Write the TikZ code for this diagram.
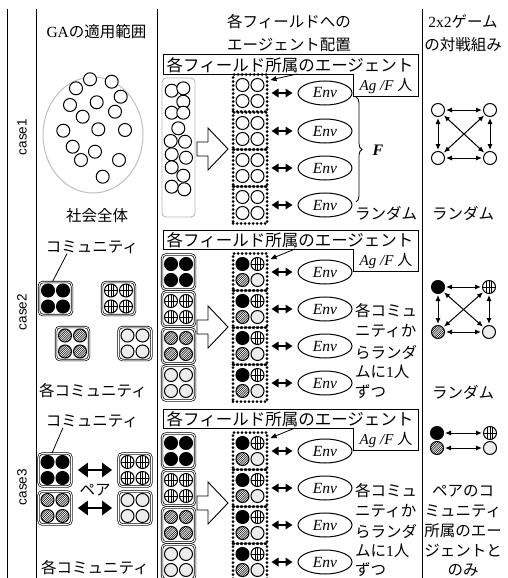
\documentclass[tikz,border=0pt]{standalone}
\usepackage{fontspec}
\setmainfont{Liberation Serif}
\setsansfont{Liberation Sans}
\newfontfamily\jpf{Noto Sans CJK JP}
\usetikzlibrary{arrows.meta,decorations.pathreplacing,calc,shapes.geometric}
\tikzset{
  hatchfill/.style={path picture={\foreach \k in {-18,-15.8,...,18}{\draw[line width=.5pt] ($(path picture bounding box.center)+(\k-10,10)$)--($(path picture bounding box.center)+(\k+10,-10)$);}}},
  gridfill/.style={path picture={\draw[line width=.55pt] ($(path picture bounding box.center)+(-2.6,-8)$)--++(0,16) ($(path picture bounding box.center)+(0,-8)$)--++(0,16) ($(path picture bounding box.center)+(2.6,-8)$)--++(0,16) ($(path picture bounding box.center)+(-8,0)$)--++(16,0);}},
  cW/.style={draw, line width=1pt, fill=white},
  cL/.style={draw, line width=1pt, fill=gray!15},
  cB/.style={draw, line width=1pt, fill=black},
  cG/.style={draw, line width=1pt, fill=white, gridfill},
  cH/.style={draw, line width=1pt, fill=white, hatchfill},
  ag/.pic={\path[#1] (0,0) circle[radius=6.5pt];},
  dotbox/.style={draw, line width=3pt, dash pattern=on 0pt off 4pt, line cap=round, minimum width=34pt, minimum height=37pt, inner sep=0pt},
  combox/.style={draw, double, line width=.7pt, double distance=1pt, rounded corners=4pt, minimum width=33pt, minimum height=35pt, inner sep=0pt},
  envs/.style={draw, ellipse, line width=1pt, minimum width=54pt, minimum height=24pt, inner sep=0pt, font=\itshape\fontsize{15.5}{15.5}\selectfont},
  jt/.style={font=\jpf\fontsize{15.5}{18}\selectfont, inner sep=0pt},
  jl/.style={font=\jpf\fontsize{16.5}{18}\selectfont, inner sep=0pt},
  darr/.style={line width=1.7pt, >={Triangle[length=7pt,width=8.5pt]}, <->, shorten <=3pt, shorten >=5pt},
  bigdarr/.style={line width=2.8pt, >={Triangle[length=10pt,width=14pt]}, <->, shorten <=6pt, shorten >=6pt},
  sarr/.style={line width=1pt, >={Latex[length=6pt,width=5pt]}, <->, shorten <=1pt, shorten >=1pt},
  tagarr/.style={line width=.8pt, -{Triangle[length=6pt,width=5pt]}},
  lbox/.style={line width=1pt},
  barr/.style={line width=.9pt, fill=white},
  smc/.style={circle, minimum size=13pt, inner sep=0pt},
  sep/.style={line width=.5pt, double, double distance=1.2pt},
  vline/.style={line width=.9pt},
  caselab/.style={rotate=90, font=\sffamily\fontsize{13.5}{14}\selectfont, inner sep=0pt},
}
\newcommand\fourag[5]{%
  \pic at ($(#1)+(-7.5,-8)$) {ag=#2};
  \pic at ($(#1)+(7.5,-8)$) {ag=#3};
  \pic at ($(#1)+(-7.5,8)$) {ag=#4};
  \pic at ($(#1)+(7.5,8)$) {ag=#5};}
\newcommand\blkarrow[1]{%
  \draw[barr] (197,#1-7) -- (208,#1-7) -- (208,#1-21) -- (228,#1) -- (208,#1+21) -- (208,#1+7) -- (197,#1+7) -- cycle;}
\begin{document}
\begin{tikzpicture}[x=1pt,y=-1pt]
\useasboundingbox (0,0) rectangle (507,578);
\fill[white] (0,0) rectangle (507,578);

% ---------- table ----------
\draw[sep] (7,9) -- (507,9);
\draw[sep] (7,53) -- (507,53);
\draw[sep] (7,226) -- (507,226);
\draw[sep] (7,404) -- (507,404);
\foreach \xx in {7,36,157,422} \draw[vline] (\xx,9) -- (\xx,578);

% ---------- header ----------
\node[jt] (h1) at (96.5,32) {{\rmfamily GA}の適用範囲};
\node[jt] (h2a) at (289,22) {各フィールドへの};
\node[jt] (h2b) at (289,45) {エージェント配置};
\node[jt] (h3a) at (463,22) {{\rmfamily 2x2}ゲーム};
\node[jt] (h3b) at (463,45) {の対戦組み};

% ================= case 1 =================
\node[caselab] (c1) at (22,137) {case1};
\node[draw=gray!50, line width=1pt, ellipse, minimum width=100pt, minimum height=116pt, inner sep=0pt] (soc) at (93,135) {};
\foreach \p in {(90,79.3),(111.7,81.7),(76,88.3),(120.7,96.7),(96.7,102.3),(70,105),(115,111.7),(82.7,116.7),(63.3,130.7),(98.3,129.3),(125,130),(72.7,146.7),(95,151.7),(81,160),(119,160),(102.7,176.7)}
  \pic at \p {ag=cW};
\node[jt] (s1) at (97,216) {社会全体};

% label box
\draw[lbox] (163,55) -- (418,55) -- (418,96) -- (353,96) -- (353,74) -- (163,74) -- cycle;
\node[jl] (lab1) at (290,65) {各フィールド所属のエージェント};
\node[inner sep=0pt, font=\fontsize{15}{15}\selectfont] (ag1) at (386,86) {\textit{Ag /F} {\jpf 人}};
% pool
\node[draw=gray!55, line width=.9pt, rounded corners=4pt, minimum width=33pt, minimum height=139pt, inner sep=0pt] (pool1) at (178.5,147.5) {};
\foreach \p in {(171.7,90.7),(183.3,88.3),(183.3,101.7),(171.7,112.7),(183.3,112.7),(178.3,128.3),(170.7,141),(185,141.7),(171.7,154.3),(186,157.7),(171.7,167.3),(183.3,175.7),(171.7,186.7),(184.3,189.3)}
  \pic at \p {ag=cW};
\blkarrow{149}
\foreach \yy [count=\i] in {93,131,168,205} {
  \node[dotbox] (g1\i) at (250,\yy) {};
  \fourag{g1\i}{cW}{cW}{cW}{cW}
  \node[envs] (e1\i) at (325,\yy) {Env};
  \draw[darr] (g1\i) -- (e1\i);
}
\coordinate (la1) at (297,74);
\draw[tagarr] (la1) -- ($(g11.north east)+(2,7)$);
\draw[decorate, decoration={brace, amplitude=6pt}, line width=.8pt] (356,97) -- (356,202);
\node[font=\bfseries\itshape\fontsize{16}{16}\selectfont, inner sep=0pt] (F1) at (378,150) {F};
\node[jt] (rnd1) at (386,213) {ランダム};
% col 4
\node[smc, cW] (k11) at (438,110) {};
\node[smc, cW] (k12) at (490,110) {};
\node[smc, cW] (k13) at (438,158) {};
\node[smc, cW] (k14) at (490,158) {};
\draw[sarr] (k11) -- (k12);
\draw[sarr] (k13) -- (k14);
\draw[sarr] (k11) -- (k13);
\draw[sarr] (k12) -- (k14);
\draw[sarr] (k11) -- (k14);
\draw[sarr] (k12) -- (k13);
\node[jt] (rnd1b) at (463,213) {ランダム};

% ================= case 2 =================
\node[caselab] (c2) at (22,312) {case2};
\node[jt] (ct2) at (92,247) {コミュニティ};
\node[combox, minimum height=33pt] (cb2) at (55.5,298.5) {}; \fourag{cb2}{cB}{cB}{cB}{cB}
\node[combox, minimum height=33pt] (cg2) at (118.5,298.5) {}; \fourag{cg2}{cG}{cG}{cG}{cG}
\node[combox, minimum height=33pt] (ch2) at (72.5,343.5) {}; \fourag{ch2}{cH}{cH}{cH}{cH}
\node[combox, minimum height=33pt] (cl2) at (135,343.5) {}; \fourag{cl2}{cL}{cL}{cL}{cL}
\draw[line width=.8pt] ([xshift=-25pt]ct2.south) -- ([xshift=-3pt]cb2.north);
\node[jt] (ea2) at (93,391) {各コミュニティ};

\draw[lbox] (163,230) -- (418,230) -- (418,271) -- (353,271) -- (353,249) -- (163,249) -- cycle;
\node[jl] (lab2) at (290,240) {各フィールド所属のエージェント};
\node[inner sep=0pt, font=\fontsize{15}{15}\selectfont] (ag2) at (386,261) {\textit{Ag /F} {\jpf 人}};
\node[combox] (p21) at (178.5,272) {}; \fourag{p21}{cB}{cB}{cB}{cB}
\node[combox] (p22) at (178.5,309) {}; \fourag{p22}{cG}{cG}{cG}{cG}
\node[combox] (p23) at (178.5,346) {}; \fourag{p23}{cH}{cH}{cH}{cH}
\node[combox] (p24) at (178.5,383) {}; \fourag{p24}{cL}{cL}{cL}{cL}
\blkarrow{327}
\foreach \yy [count=\i] in {272,309,346,383} {
  \node[dotbox] (g2\i) at (250,\yy) {};
  \fourag{g2\i}{cB}{cG}{cH}{cL}
  \node[envs] (e2\i) at (325,\yy) {Env};
  \draw[darr] (g2\i) -- (e2\i);
}
\coordinate (la2) at (295,249);
\draw[tagarr] (la2) -- ($(g21.north east)+(2,7)$);
\foreach \t/\yy [count=\i] in {各コミュ/311,ニティか/331,らランダ/352,ムに{\rmfamily 1}人/372,ずつ/392}
  \node[jt, anchor=west] (r2\i) at (355,\yy) {\t};
\node[smc, cB] (m21) at (438,287) {};
\node[smc, cG] (m22) at (489,287) {};
\node[smc, cH] (m23) at (438,332) {};
\node[smc, cL] (m24) at (489,332) {};
\draw[sarr] (m21) -- (m22);
\draw[sarr] (m23) -- (m24);
\draw[sarr] (m21) -- (m23);
\draw[sarr] (m22) -- (m24);
\draw[sarr] (m21) -- (m24);
\draw[sarr] (m22) -- (m23);
\node[jt] (rnd2) at (463,392) {ランダム};

% ================= case 3 =================
\node[caselab] (c3) at (22,487) {case3};
\node[jt] (ct3) at (92,421) {コミュニティ};
\node[combox, minimum height=33pt] (cb3) at (55,470) {}; \fourag{cb3}{cB}{cB}{cB}{cB}
\node[combox, minimum height=33pt] (cg3) at (135,470) {}; \fourag{cg3}{cG}{cG}{cG}{cG}
\node[combox, minimum height=33pt] (ch3) at (55,508) {}; \fourag{ch3}{cH}{cH}{cH}{cH}
\node[combox, minimum height=33pt] (cl3) at (135,508) {}; \fourag{cl3}{cL}{cL}{cL}{cL}
\draw[line width=.8pt] ([xshift=-29pt]ct3.south) -- ([xshift=-3pt]cb3.north);
\draw[bigdarr] (cb3) -- (cg3);
\draw[bigdarr] (ch3) -- (cl3);
\node[jt] (pa3) at (95,490) {ペア};
\node[jt] (ea3) at (95,568) {各コミュニティ};

\draw[lbox] (163,409) -- (418,409) -- (418,450) -- (353,450) -- (353,428) -- (163,428) -- cycle;
\node[jl] (lab3) at (290,419) {各フィールド所属のエージェント};
\node[inner sep=0pt, font=\fontsize{15}{15}\selectfont] (ag3) at (386,440) {\textit{Ag /F} {\jpf 人}};
\node[combox] (p31) at (178.5,451) {}; \fourag{p31}{cB}{cB}{cB}{cB}
\node[combox] (p32) at (178.5,488) {}; \fourag{p32}{cG}{cG}{cG}{cG}
\node[combox] (p33) at (178.5,525) {}; \fourag{p33}{cH}{cH}{cH}{cH}
\node[combox] (p34) at (178.5,562) {}; \fourag{p34}{cL}{cL}{cL}{cL}
\blkarrow{503}
\foreach \yy [count=\i] in {451,488,525,562} {
  \node[dotbox] (g3\i) at (250,\yy) {};
  \fourag{g3\i}{cB}{cG}{cH}{cL}
  \node[envs] (e3\i) at (325,\yy) {Env};
  \draw[darr] (g3\i) -- (e3\i);
}
\coordinate (la3) at (295,428);
\draw[tagarr] (la3) -- ($(g31.north east)+(2,7)$);
\foreach \t/\yy [count=\i] in {各コミュ/491,ニティか/511,らランダ/531,ムに{\rmfamily 1}人/551,ずつ/570}
  \node[jt, anchor=west] (r3\i) at (355,\yy) {\t};
\node[smc, cB] (n31) at (437,433) {};
\node[smc, cG] (n32) at (490,433) {};
\node[smc, cH] (n33) at (437,448) {};
\node[smc, cL] (n34) at (490,448) {};
\draw[sarr] (n31) -- (n32);
\draw[sarr] (n33) -- (n34);
\foreach \t/\yy [count=\i] in {ペアのコ/491,ミュニティ/511,所属のエー/531,ジェントと/551,のみ/570}
  \node[jt] (q3\i) at (463,\yy) {\t};
\end{tikzpicture}
\end{document}
